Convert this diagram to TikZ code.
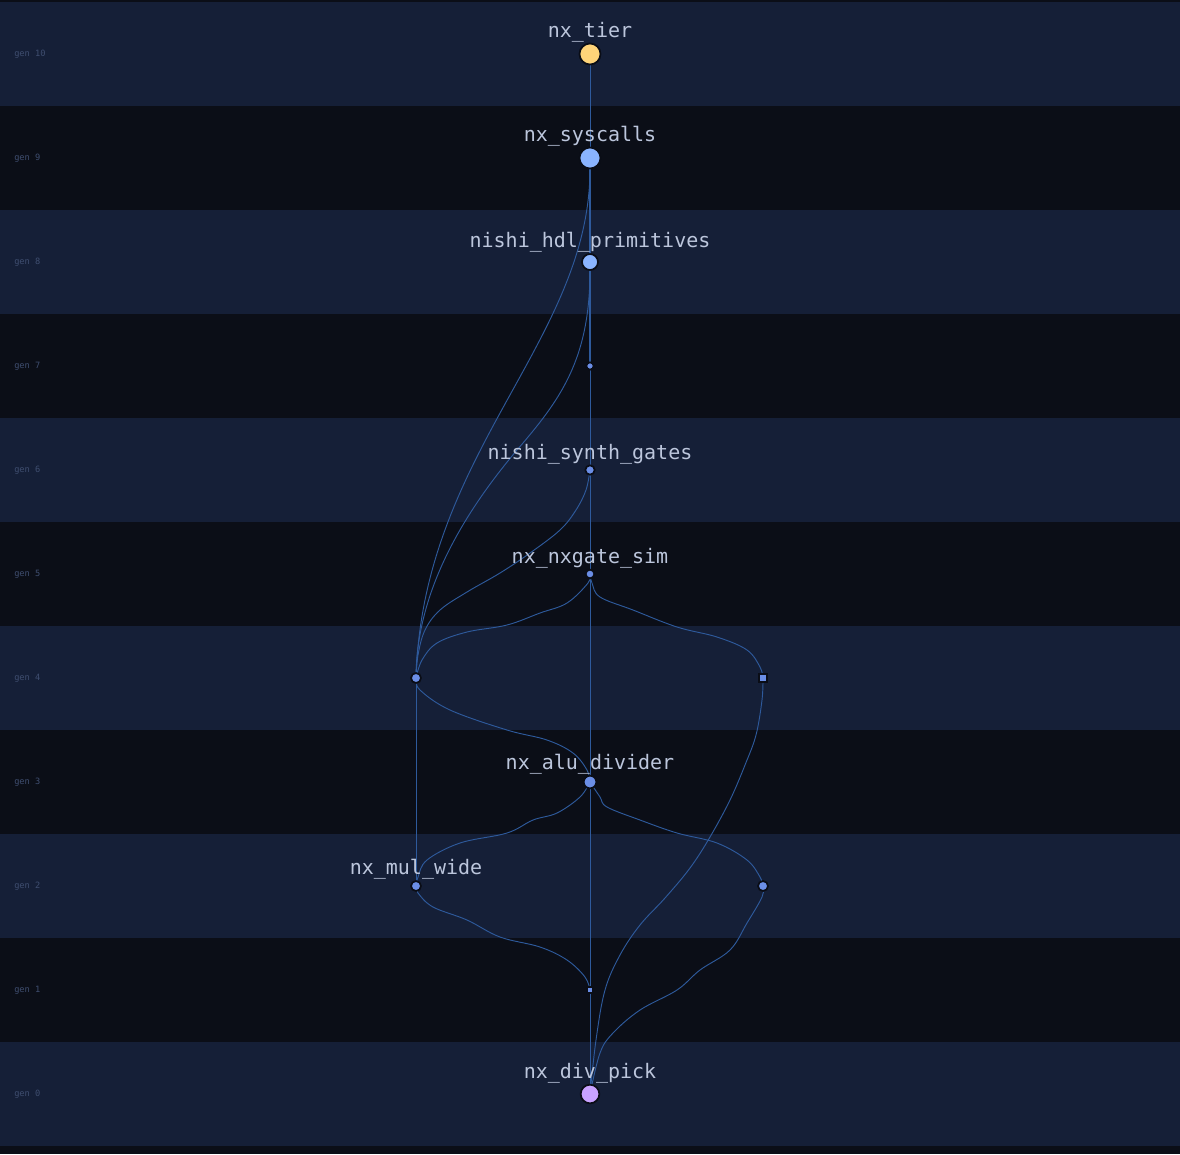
\documentclass[tikz,border=0pt]{standalone}
\usepackage{fontspec}
\newfontfamily\monofont{DejaVu Sans Mono}

\definecolor{bgdark}{HTML}{0B0E17}
\definecolor{bglight}{HTML}{151F37}
\definecolor{genc}{HTML}{3F4E70}
\definecolor{lblc}{HTML}{BCC6DC}
\definecolor{edgec}{HTML}{2E5A9C}
\definecolor{ringc}{HTML}{0A0D16}
\definecolor{smallc}{HTML}{6B8EE6}
\definecolor{bigc}{HTML}{8AB4FF}
\definecolor{tierc}{HTML}{FFD479}
\definecolor{pickc}{HTML}{C9A2FF}

\pgfdeclarelayer{back}
\pgfdeclarelayer{mid}
\pgfsetlayers{back,mid,main}

\tikzset{
    genlbl/.style={anchor=west, inner sep=0pt, text=genc, font=\monofont\fontsize{6.5pt}{6.5pt}\selectfont},
    lbl/.style={inner sep=0pt, text depth=0pt, text=lblc, font=\monofont\fontsize{15pt}{15pt}\selectfont},
    vtx/.style={circle, draw=ringc, line width=1.3pt, inner sep=0pt, outer sep=0pt, fill=smallc},
    sqvtx/.style={rectangle, draw=ringc, line width=1.3pt, inner sep=0pt, outer sep=0pt, fill=smallc},
    edge/.style={draw=edgec, line width=0.7pt},
}

\begin{document}
\begin{tikzpicture}[x=0.75pt, y=-0.75pt, label distance=4.5pt]

    \useasboundingbox (0,0) rectangle (1180,1154);

    % --- bande per generazione ---
    \begin{pgfonlayer}{back}
        \fill[bgdark] (0,0) rectangle (1180,1154);
        \foreach \g in {0,2,...,10} {
            \fill[bglight] (0,{2+(10-\g)*104}) rectangle (1180,{106+(10-\g)*104});
        }
        \foreach \g in {0,...,10} {
            \node[genlbl] (gen\g) at (14,{54+(10-\g)*104}) {gen \g};
        }
    \end{pgfonlayer}

    % --- nodi ---
    \node[vtx, fill=tierc, minimum size=15.75pt, label={[lbl]above:nx\_tier}] (tier) at (590,54) {};
    \node[vtx, fill=bigc, minimum size=15.75pt, label={[lbl]above:nx\_syscalls}] (syscalls) at (590,158) {};
    \node[vtx, fill=bigc, minimum size=12pt, label={[lbl]above:nishi\_hdl\_primitives}] (hdl) at (590,262) {};
    \node[vtx, minimum size=5.5pt] (g7) at (590,366) {};
    \node[vtx, minimum size=7pt, label={[lbl]above:nishi\_synth\_gates}] (synth) at (590,470) {};
    \node[vtx, minimum size=6.5pt, label={[lbl]above:nx\_nxgate\_sim}] (nxgate) at (590,574) {};
    \node[vtx, minimum size=7.5pt] (left4) at (416,678) {};
    \node[sqvtx, minimum size=6pt] (right4) at (763,678) {};
    \node[vtx, minimum size=9.5pt, label={[lbl]above:nx\_alu\_divider}] (alu) at (590,782) {};
    \node[vtx, minimum size=7.5pt, label={[lbl]above:nx\_mul\_wide}] (mulwide) at (416,886) {};
    \node[vtx, minimum size=7.5pt] (right2) at (763,886) {};
    \node[sqvtx, minimum size=4.5pt] (g1) at (590,990) {};
    \node[vtx, fill=pickc, minimum size=14pt, label={[lbl]above:nx\_div\_pick}] (pick) at (590,1094) {};

    % --- archi ---
    \begin{pgfonlayer}{mid}
        % colonna centrale
        \draw[edge] (tier) -- (syscalls);
        \draw[edge, line width=1.3pt] (syscalls) -- (hdl);
        \draw[edge, line width=1.1pt] (hdl) -- (g7);
        \draw[edge] (g7) -- (synth);
        \draw[edge] (synth) -- (nxgate);
        \draw[edge] (nxgate) -- (alu);
        \draw[edge] (alu) -- (g1);
        \draw[edge] (g1) -- (pick);
        \draw[edge] (left4) -- (mulwide);

        % verso sinistra (gen 4)
        \draw[edge] (syscalls) .. controls (590,340) and (425,450) .. (left4);
        \draw[edge] (hdl) .. controls (590,360) and (560,400) .. (517,450)
                          .. controls (475,500) and (418,580) .. (left4);
        \draw[edge] plot[smooth, tension=0.6] coordinates {(synth) (586,490) (576,510) (560,530) (530,553) (500,573) (467,592) (440,610) (425,630) (418,655) (left4)};
        \draw[edge] plot[smooth, tension=0.6] coordinates {(nxgate) (588,583) (567,603) (540,613) (507,625) (467,632) (437,643) (422,660) (left4)};
        \draw[edge] plot[smooth, tension=0.6] coordinates {(nxgate) (592,583) (600,597) (633,610) (677,627) (717,637) (747,650) (760,667) (right4)};

        % gen 4 verso il basso
        \draw[edge] plot[smooth, tension=0.6] coordinates {(left4) (420,690) (450,710) (507,730) (547,740) (573,753) (587,770) (alu)};
        \draw[edge] plot[smooth, tension=0.6] coordinates {(right4) (762,700) (756,735) (745,765) (730,800) (710,837) (690,868) (665,898) (640,925) (620,955) (605,990) (596,1040) (pick)};

        % gen 3 verso gen 2
        \draw[edge] plot[smooth, tension=0.6] coordinates {(alu) (580,797) (557,813) (533,820) (507,833) (460,843) (427,860) (418,877) (mulwide)};
        \draw[edge] plot[smooth, tension=0.6] coordinates {(alu) (600,797) (607,807) (640,820) (677,833) (717,843) (747,860) (760,877) (right2)};

        % gen 2 verso il basso
        \draw[edge] plot[smooth, tension=0.6] coordinates {(mulwide) (418,893) (433,907) (467,920) (500,937) (540,947) (567,960) (585,977) (g1)};
        \draw[edge] plot[smooth, tension=0.6] coordinates {(right2) (762,897) (747,923) (730,950) (700,970) (677,990) (640,1010) (613,1033) (600,1053) (pick)};
    \end{pgfonlayer}

\end{tikzpicture}
\end{document}
